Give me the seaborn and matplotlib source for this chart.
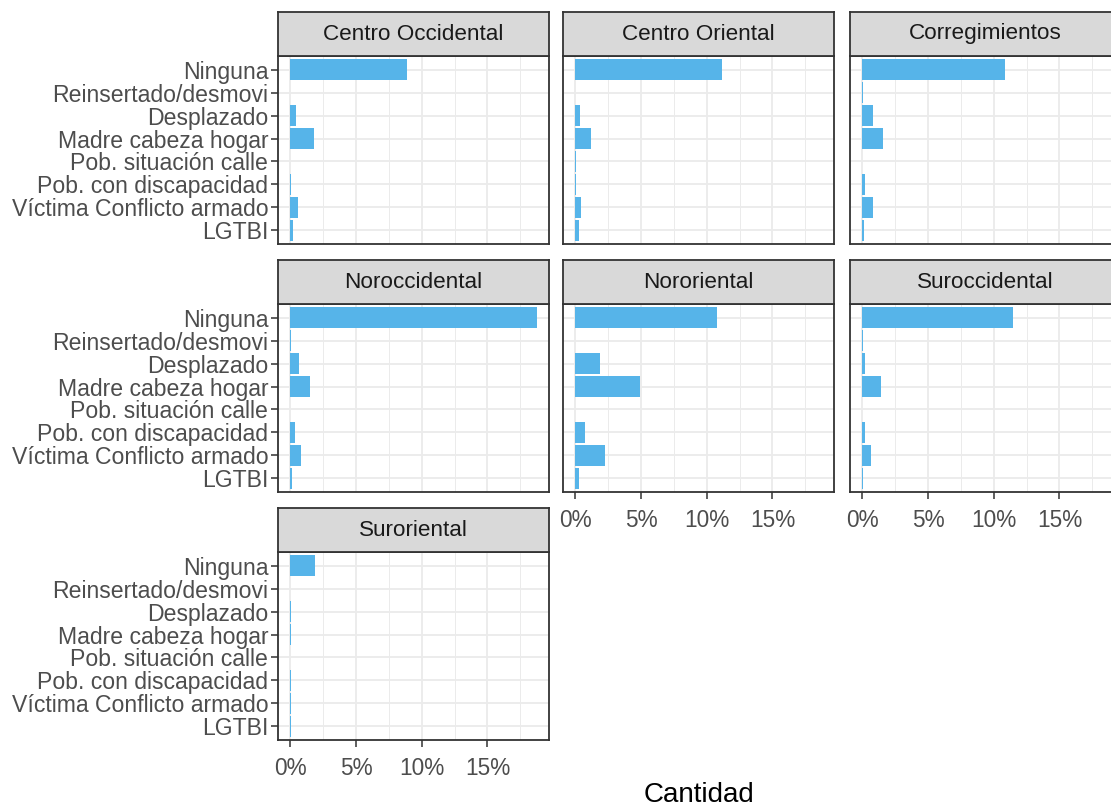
import pandas as pd
import matplotlib.pyplot as plt
import seaborn as sns
from matplotlib.ticker import MultipleLocator, FuncFormatter

# Categories (top to bottom) and the share (%) for each zone
categorias = ["Ninguna", "Reinsertado/desmovi", "Desplazado", "Madre cabeza hogar",
              "Pob. situación calle", "Pob. con discapacidad",
              "Víctima Conflicto armado", "LGTBI"]

zonas = ["Centro Occidental", "Centro Oriental", "Corregimientos",
         "Noroccidental", "Nororiental", "Suroccidental", "Suroriental"]

centro_occidental = [8.9, 0.0, 0.43, 1.78, 0.0, 0.08, 0.58, 0.2]
centro_oriental = [11.2, 0.0, 0.38, 1.23, 0.02, 0.05, 0.43, 0.25]
corregimientos = [10.85, 0.02, 0.79, 1.57, 0.0, 0.18, 0.79, 0.15]
noroccidental = [18.75, 0.02, 0.69, 1.47, 0.0, 0.33, 0.81, 0.13]
nororiental = [10.8, 0.0, 1.85, 4.92, 0.0, 0.74, 2.28, 0.3]
suroccidental = [11.5, 0.02, 0.23, 1.4, 0.0, 0.23, 0.63, 0.03]
suroriental = [1.85, 0.0, 0.05, 0.08, 0.0, 0.08, 0.03, 0.03]

valores = [centro_occidental, centro_oriental, corregimientos,
           noroccidental, nororiental, suroccidental, suroriental]

# Long table for seaborn
df = pd.DataFrame([
    {"zona": z, "categoria": c, "pct": v}
    for z, vals in zip(zonas, valores)
    for c, v in zip(categorias, vals)
])

sns.set_theme(style="white")
plt.rcParams["font.family"] = ["Liberation Sans", "DejaVu Sans"]

W, H = 1111, 809
fig = plt.figure(figsize=(W / 100, H / 100), dpi=100)

def px_axes(left, top, width, height):
    return fig.add_axes([left / W, 1 - (top + height) / H, width / W, height / H])

col_left = [278, 563, 850]
panel_top = [56, 304, 552]
panel_w, panel_h, strip_h = 271, 188, 44

xmax = df["pct"].max()
pad = xmax * 0.05
bar_color = "#56B4E9"
border = "#333333"

for i, zona in enumerate(zonas):
    row, col = divmod(i, 3)
    ax = px_axes(col_left[col], panel_top[row], panel_w, panel_h)
    sub = df[df["zona"] == zona]
    sns.barplot(data=sub, x="pct", y="categoria", order=categorias, orient="h",
                color=bar_color, saturation=1, width=0.9, errorbar=None,
                linewidth=0, ax=ax)
    ax.set_xlim(-pad, xmax + pad)
    ax.set_ylim(len(categorias) - 0.4, -0.6)
    ax.set_xlabel("")
    ax.set_ylabel("")

    # ggplot theme_bw look
    ax.set_facecolor("white")
    ax.set_axisbelow(True)
    ax.xaxis.set_major_locator(MultipleLocator(5))
    ax.xaxis.set_minor_locator(MultipleLocator(2.5))
    ax.xaxis.set_major_formatter(FuncFormatter(lambda v, _: f"{v:.0f}%"))
    ax.grid(which="major", axis="both", color="#EBEBEB", linewidth=1.3)
    ax.grid(which="minor", axis="x", color="#EBEBEB", linewidth=0.7)
    for s in ax.spines.values():
        s.set_visible(True)
        s.set_color(border)
        s.set_linewidth(1.3)

    show_y = col == 0
    show_x = (row == 2) or (row == 1 and col > 0)
    ax.tick_params(axis="y", which="both", left=show_y, labelleft=show_y,
                   length=5, width=1.1, color=border, labelcolor="#4D4D4D",
                   labelsize=16.6, pad=2)
    ax.tick_params(axis="x", which="major", bottom=show_x, labelbottom=show_x,
                   length=5, width=1.1, color=border, labelcolor="#4D4D4D",
                   labelsize=16.3, pad=7)
    ax.tick_params(axis="x", which="minor", bottom=False)

    # facet strip
    st = px_axes(col_left[col], panel_top[row] - strip_h, panel_w, strip_h)
    st.set_facecolor("#D9D9D9")
    st.set_xticks([])
    st.set_yticks([])
    for s in st.spines.values():
        s.set_visible(True)
        s.set_color(border)
        s.set_linewidth(1.3)
    st.text(0.5, 0.5, zona, ha="center", va="center", fontsize=16.2,
            color="#1A1A1A", transform=st.transAxes)

fig.text(699 / W, 1 - 802 / H, "Cantidad", ha="center", va="baseline",
         fontsize=20, color="black")

plt.savefig("out.png", dpi=100)
plt.close()
